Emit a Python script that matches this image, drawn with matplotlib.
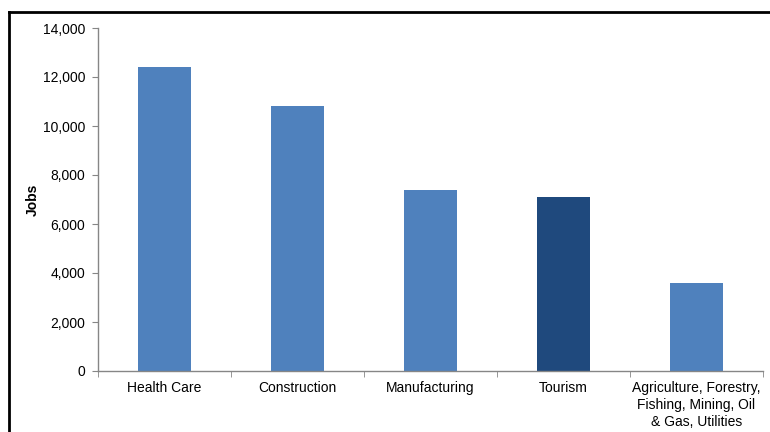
import matplotlib
matplotlib.use("Agg")
import matplotlib.pyplot as plt
from matplotlib.lines import Line2D
from matplotlib.ticker import FuncFormatter, FixedLocator
import numpy as np

categories = ["Health Care", "Construction", "Manufacturing", "Tourism",
              "Agriculture, Forestry,\nFishing, Mining, Oil\n& Gas, Utilities"]
jobs = [12400, 10800, 7400, 7100, 3600]
highlight = "Tourism"

BLUE = "#4F81BD"
DARK = "#1F497D"
AXIS = "#868686"

plt.rcParams["font.family"] = ["Liberation Sans", "DejaVu Sans"]
plt.rcParams["font.size"] = 10

fig = plt.figure(figsize=(7.7, 4.32), dpi=100)
ax = fig.add_axes([98 / 770, 1 - 371 / 432, 665 / 770, 343 / 432])

x = np.arange(len(categories))
colors = [DARK if c == highlight else BLUE for c in categories]
ax.bar(x, jobs, width=0.4, color=colors, edgecolor="none")

ax.set_xlim(-0.5, len(categories) - 0.5)
ax.set_ylim(0, 14000)
ax.set_yticks(np.arange(0, 14001, 2000))
ax.yaxis.set_major_formatter(FuncFormatter(lambda v, _: f"{v:,.0f}"))
ax.set_ylabel("Jobs", fontweight="bold", fontsize=10, labelpad=2)

# category labels centered, tick marks at category boundaries
ax.set_xticks(x)
ax.set_xticklabels(categories, linespacing=1.3)
ax.tick_params(axis="x", length=0, pad=7)
ax.xaxis.set_minor_locator(FixedLocator(np.arange(-0.5, len(categories), 1.0)))
ax.tick_params(axis="x", which="minor", length=4, color=AXIS, direction="out")
ax.tick_params(axis="y", length=4, color=AXIS, direction="out", pad=5)

for side in ["top", "right"]:
    ax.spines[side].set_visible(False)
for side in ["left", "bottom"]:
    ax.spines[side].set_color(AXIS)
    ax.spines[side].set_linewidth(1.0)

# frame lines of the original slide, left and top edges only
fig.add_artist(Line2D([8.5 / 770, 8.5 / 770], [0, 1 - 12 / 432], color="black", lw=2))
fig.add_artist(Line2D([8.5 / 770, 1], [1 - 12 / 432, 1 - 12 / 432], color="black", lw=2))

fig.savefig("out.png", dpi=100, facecolor="white")
